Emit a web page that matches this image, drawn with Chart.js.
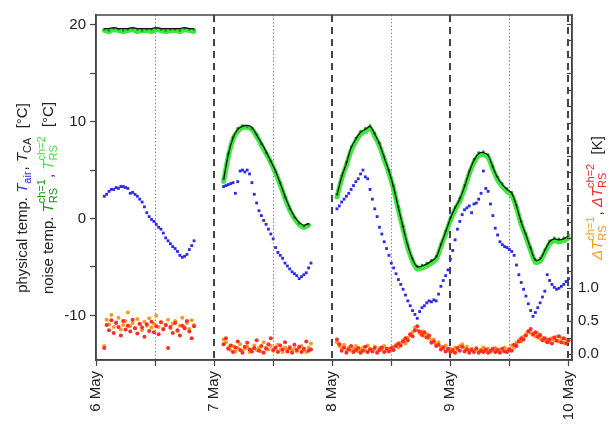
<!DOCTYPE html>
<html>
<head>
<meta charset="utf-8">
<script src="https://cdn.jsdelivr.net/npm/chart.js@4.4.1/dist/chart.umd.min.js"></script>
<style>
  html, body { margin: 0; padding: 0; background: #fff; }
  canvas { display: block; }
</style>
</head>
<body>
<canvas id="chart" width="613" height="430"></canvas>
<script>
// ---- data (x in days of May, each segment sampled from a start day) ----
var segStart = [6.07, 7.08, 8.04];
var fineStep = 0.02;    // T_air and delta T samples
var coarseStep = 0.04;  // T_CA and T_RS samples

var dayLabels = ["6 May", "7 May", "8 May", "9 May", "10 May"];
var xTickValues = [6, 6.5, 7, 7.5, 8, 8.5, 9, 9.5, 10];
var dashedDays = [7, 8, 9, 10];
var dottedDays = [6.5, 7.5, 8.5, 9.5];
var leftTickValues = [-10, -5, 0, 5, 10, 15, 20];
var rightTickLabels = { "0": "0.0", "0.5": "0.5", "1": "1.0" };

// physical temp. T_air (blue)
var tAir = [
  [2.3, 2.5, 2.8, 3.0, 3.0, 3.2, 3.1, 3.3, 3.3, 3.2,
   3.1, 2.6, 2.7, 2.5, 2.3, 2.0, 1.7, 1.2, 0.6, 0.2,
   -0.1, -0.3, -0.6, -0.9, -1.1, -1.5, -2.0, -2.3, -2.6, -2.9,
   -3.1, -3.4, -3.8, -4.0, -3.9, -3.7, -3.2, -2.8, -2.3],
  [3.3, 3.4, 3.5, 3.6, 3.7, 2.6, 3.8, 4.9, 5.0, 4.8,
   5.0, 4.6, 3.7, 2.5, 1.6, 0.8, 0.3, -0.2, -0.6, -1.1,
   -1.6, -2.1, -3.0, -3.5, -3.8, -4.1, -4.6, -4.9, -5.2, -5.5,
   -5.7, -5.9, -6.2, -6.0, -5.8, -5.6, -5.1, -4.6],
  [1.0, 1.3, 1.7, 2.0, 2.3, 2.6, 3.0, 3.4, 3.8, 4.1,
   4.6, 5.0, 4.3, 4.1, 3.0, 2.0, 1.0, 0.2, -0.9, -1.6,
   -2.4, -3.1, -3.8, -4.6, -5.1, -5.7, -6.3, -6.8, -7.3, -7.9,
   -8.5, -9.0, -9.5, -9.9, -10.3, -9.6, -9.2, -9.0, -8.7, -8.5,
   -8.6, -8.4, -8.5, -7.8, -7.0, -6.4, -5.9, -5.3, -4.2, -3.3,
   -2.2, -1.1, -0.3, 0.4, 0.9, 1.1, 1.3, 0.6, 1.5, 1.6,
   2.0, 2.6, 4.9, 3.1, 2.8, 1.5, 0.3, -1.0, -1.7, -2.4,
   -2.7, -2.9, -3.0, -3.2, -3.4, -3.8, -4.8, -5.8, -6.6, -7.3,
   -8.0, -8.8, -9.5, -10.1, -9.7, -9.2, -8.7, -8.1, -7.5, -5.8,
   -6.4, -6.8, -7.1, -7.3, -7.2, -7.0, -6.8, -6.5, -6.2]
];

// physical temp. T_CA (black line)
var tCA = [
  [19.6, 19.6, 19.7, 19.6, 19.6, 19.6, 19.7, 19.6, 19.6, 19.6,
   19.6, 19.7, 19.6, 19.6, 19.6, 19.6, 19.6, 19.7, 19.6, 19.6],
  [4.0, 6.6, 8.3, 9.2, 9.5, 9.6, 9.4, 8.6, 7.8, 6.9,
   5.9, 4.9, 3.6, 2.3, 1.1, 0.2, -0.4, -0.7, -0.5],
  [2.4, 4.3, 5.7, 7.3, 8.2, 8.9, 9.2, 9.5, 8.7, 7.7,
   6.3, 4.9, 3.2, 1.1, -0.9, -2.8, -4.2, -5.0, -4.9, -4.7,
   -4.4, -4.0, -2.7, -1.4, 0.0, 1.1, 2.0, 3.3, 4.8, 6.0,
   6.7, 6.8, 6.5, 5.3, 4.2, 3.5, 3.0, 2.6, 1.3, -0.4,
   -1.7, -3.1, -4.3, -4.2, -3.3, -2.4, -2.1, -2.2, -2.1, -1.8]
];

// noise temp. T_RS ch=1 (dark green)
var tRS1 = [
  [19.5, 19.4, 19.6, 19.5, 19.4, 19.5, 19.6, 19.5, 19.4, 19.5,
   19.5, 19.6, 19.5, 19.4, 19.5, 19.5, 19.4, 19.6, 19.5, 19.5],
  [4.1, 6.7, 8.4, 9.3, 9.6, 9.5, 9.3, 8.7, 7.7, 6.8,
   5.9, 4.8, 3.7, 2.2, 1.0, 0.1, -0.5, -0.8, -0.6],
  [2.5, 4.4, 5.8, 7.4, 8.3, 9.0, 9.3, 9.6, 8.8, 7.8,
   6.4, 5.0, 3.3, 1.2, -0.8, -2.7, -4.1, -4.9, -4.8, -4.6,
   -4.3, -3.9, -2.6, -1.3, 0.1, 1.2, 2.1, 3.4, 4.9, 6.1,
   6.8, 6.9, 6.6, 5.4, 4.3, 3.6, 3.1, 2.7, 1.4, -0.3,
   -1.6, -3.0, -4.2, -4.1, -3.2, -2.3, -2.0, -2.1, -2.0, -1.7]
];

// noise temp. T_RS ch=2 (bright green)
var tRS2 = [
  [19.4, 19.3, 19.5, 19.4, 19.3, 19.4, 19.5, 19.3, 19.4, 19.4,
   19.3, 19.5, 19.4, 19.3, 19.4, 19.4, 19.3, 19.5, 19.4, 19.3],
  [3.8, 6.4, 8.2, 9.0, 9.4, 9.4, 9.2, 8.5, 7.6, 6.7,
   5.8, 4.7, 3.5, 2.1, 0.9, 0.0, -0.6, -0.9, -0.7],
  [2.2, 4.1, 5.5, 7.0, 8.0, 8.7, 9.0, 9.3, 8.5, 7.5,
   6.1, 4.7, 3.0, 0.9, -1.1, -3.0, -4.4, -5.2, -5.1, -4.9,
   -4.6, -4.2, -2.9, -1.6, -0.2, 0.9, 1.8, 3.1, 4.6, 5.8,
   6.5, 6.6, 6.3, 5.1, 4.0, 3.3, 2.8, 2.4, 1.1, -0.6,
   -1.9, -3.3, -4.5, -4.4, -3.5, -2.6, -2.3, -2.4, -2.3, -2.0]
];

// delta T_RS ch=1 (orange), right axis [K]
var dT1 = [
  [0.12, 0.52, 0.45, 0.59, 0.41, 0.48, 0.55, 0.37, 0.44, 0.50,
   0.63, 0.42, 0.47, 0.39, 0.53, 0.45, 0.36, 0.49, 0.43, 0.54,
   0.40, 0.46, 0.58, 0.41, 0.48, 0.37, 0.44, 0.52, 0.39, 0.46,
   0.50, 0.35, 0.43, 0.55, 0.41, 0.47, 0.38, 0.51, 0.44],
  [0.22, 0.18, 0.10, 0.06, 0.12, 0.04, 0.09, 0.15, 0.05, 0.08,
   0.11, 0.03, 0.07, 0.13, 0.06, 0.09, 0.04, 0.18, 0.10, 0.07,
   0.12, 0.05, 0.08, 0.14, 0.06, 0.03, 0.10, 0.07, 0.11, 0.05,
   0.08, 0.04, 0.09, 0.12, 0.06, 0.03, 0.10, 0.16],
  [0.18, 0.12, 0.09, 0.14, 0.06, 0.10, 0.05, 0.08, 0.12, 0.04,
   0.07, 0.10, 0.05, 0.13, 0.08, 0.06, 0.11, 0.04, 0.09, 0.07,
   0.12, 0.05, 0.08, 0.06, 0.11, 0.14, 0.10, 0.17, 0.21, 0.16,
   0.25, 0.29, 0.33, 0.40, 0.36, 0.31, 0.34, 0.27, 0.30, 0.24,
   0.20, 0.22, 0.15, 0.18, 0.11, 0.09, 0.13, 0.06, 0.08, 0.04,
   0.10, 0.07, 0.12, 0.15, 0.09, 0.11, 0.06, 0.08, 0.05, 0.09,
   0.04, 0.07, 0.10, 0.05, 0.08, 0.03, 0.06, 0.09, 0.04, 0.07,
   0.05, 0.10, 0.06, 0.08, 0.13, 0.10, 0.17, 0.21, 0.19, 0.26,
   0.30, 0.35, 0.32, 0.29, 0.27, 0.31, 0.23, 0.25, 0.20, 0.22,
   0.18, 0.24, 0.21, 0.26, 0.19, 0.23, 0.17, 0.22, 0.20]
];

// delta T_RS ch=2 (red), right axis [K]
var dT2 = [
  [0.09, 0.44, 0.36, 0.51, 0.32, 0.47, 0.41, 0.28, 0.50, 0.37,
   0.43, 0.34, 0.52, 0.39, 0.31, 0.46, 0.40, 0.26, 0.45, 0.35,
   0.49, 0.33, 0.42, 0.30, 0.48, 0.38, 0.44, 0.09, 0.41, 0.32,
   0.47, 0.36, 0.28, 0.43, 0.39, 0.50, 0.34, 0.24, 0.42],
  [0.15, 0.24, 0.08, 0.13, 0.03, 0.10, 0.19, 0.06, 0.02, 0.11,
   0.17, 0.07, 0.04, 0.09, 0.21, 0.05, 0.12, 0.02, 0.08, 0.15,
   0.24, 0.06, 0.10, 0.03, 0.13, 0.07, 0.18, 0.04, 0.09, 0.02,
   0.14, 0.06, 0.11, 0.03, 0.08, 0.19, 0.05, 0.07],
  [0.22, 0.15, 0.05, 0.10, 0.02, 0.07, 0.12, 0.03, 0.06, 0.09,
   0.02, 0.05, 0.11, 0.03, 0.07, 0.04, 0.09, 0.02, 0.06, 0.10,
   0.03, 0.08, 0.04, 0.09, 0.06, 0.12, 0.16, 0.13, 0.19, 0.24,
   0.21, 0.30, 0.27, 0.36, 0.42, 0.34, 0.29, 0.33, 0.25, 0.28,
   0.17, 0.19, 0.12, 0.14, 0.07, 0.10, 0.04, 0.08, 0.03, 0.06,
   0.02, 0.09, 0.05, 0.11, 0.04, 0.07, 0.02, 0.06, 0.03, 0.08,
   0.02, 0.05, 0.03, 0.07, 0.02, 0.05, 0.08, 0.03, 0.06, 0.02,
   0.08, 0.04, 0.03, 0.07, 0.05, 0.14, 0.12, 0.19, 0.24, 0.22,
   0.28, 0.34, 0.38, 0.30, 0.33, 0.26, 0.29, 0.21, 0.24, 0.18,
   0.22, 0.16, 0.25, 0.20, 0.27, 0.18, 0.24, 0.16, 0.21]
];

// ---- helpers ----
var FONT = '"Liberation Sans", Arial, sans-serif';
var INK = "#222";
var AXIS = "#444";

// turn segmented value lists into {x, y} points, with a break between segments
function toPoints(segs, step) {
  var pts = [];
  segs.forEach(function (vals, s) {
    vals.forEach(function (v, i) {
      pts.push({ x: segStart[s] + i * step, y: v });
    });
    if (s < segs.length - 1) pts.push({ x: segStart[s] + vals.length * step, y: null });
  });
  return pts;
}

function measurePart(ctx, p) {
  if (p.sup || p.sub) {
    ctx.font = "11px " + FONT;
    return Math.max(p.sup ? ctx.measureText(p.sup).width : 0,
                    p.sub ? ctx.measureText(p.sub).width : 0) + 1;
  }
  ctx.font = (p.it ? "italic " : "") + "15px " + FONT;
  return ctx.measureText(p.t).width;
}

function drawPart(ctx, p, x) {
  ctx.fillStyle = p.c || INK;
  if (p.sup || p.sub) {
    ctx.font = "11px " + FONT;
    if (p.sup) ctx.fillText(p.sup, x, -3);
    if (p.sub) ctx.fillText(p.sub, x, 9);
    return;
  }
  ctx.font = (p.it ? "italic " : "") + "15px " + FONT;
  ctx.fillText(p.t, x, 5);
}

// vertical text centred on (cx, cy), reading bottom to top
function drawRich(ctx, cx, cy, parts) {
  ctx.save();
  ctx.translate(cx, cy);
  ctx.rotate(-Math.PI / 2);
  ctx.textBaseline = "alphabetic";
  ctx.textAlign = "left";
  var total = 0;
  parts.forEach(function (p) { p.w = measurePart(ctx, p); total += p.w; });
  var x = -total / 2;
  parts.forEach(function (p) { drawPart(ctx, p, x); x += p.w; });
  ctx.restore();
}

var BLUE = "#2a2af2";
var DKGREEN = "#0f9a0f";
var LTGREEN = "#3ee83e";
var ORANGE = "#ff9a1e";
var RED = "#ff2a2a";

var decorPlugin = {
  id: "decor",
  beforeDatasetsDraw: function (chart) {
    var ctx = chart.ctx, a = chart.chartArea, xs = chart.scales.x;
    ctx.save();
    ctx.beginPath();
    ctx.rect(a.left, a.top, a.right - a.left, a.bottom - a.top);
    ctx.clip();
    dottedDays.forEach(function (d) {
      var px = Math.round(xs.getPixelForValue(d)) + 0.5;
      ctx.strokeStyle = "#8a8a8a";
      ctx.lineWidth = 1;
      ctx.setLineDash([1.5, 2]);
      ctx.beginPath(); ctx.moveTo(px, a.top); ctx.lineTo(px, a.bottom); ctx.stroke();
    });
    dashedDays.forEach(function (d) {
      var px = Math.round(xs.getPixelForValue(d));
      ctx.strokeStyle = AXIS;
      ctx.lineWidth = 2;
      ctx.setLineDash([7, 5]);
      ctx.beginPath(); ctx.moveTo(px, a.top); ctx.lineTo(px, a.bottom); ctx.stroke();
    });
    ctx.restore();
  },
  afterDraw: function (chart) {
    var ctx = chart.ctx, a = chart.chartArea, yr = chart.scales.y2;
    ctx.save();
    // frame
    ctx.strokeStyle = AXIS;
    ctx.lineWidth = 1.5;
    ctx.strokeRect(a.left, a.top, a.right - a.left, a.bottom - a.top);
    // inward minor ticks on the right axis
    ctx.lineWidth = 1.2;
    for (var v = 0; v <= yr.max; v += 0.25) {
      var py = Math.round(yr.getPixelForValue(v)) + 0.5;
      ctx.beginPath(); ctx.moveTo(a.right - 5, py); ctx.lineTo(a.right, py); ctx.stroke();
    }
    ctx.restore();

    drawRich(ctx, 22, 198, [
      { t: "physical temp. " },
      { t: "T", it: true, c: BLUE }, { sub: "air", c: BLUE },
      { t: ", " },
      { t: "T", it: true }, { sub: "CA" },
      { t: "  [\u00b0C]" }
    ]);
    drawRich(ctx, 48, 198, [
      { t: "noise temp. " },
      { t: "T", it: true, c: DKGREEN }, { sup: "ch=1", sub: "RS", c: DKGREEN },
      { t: ", " },
      { t: "T", it: true, c: LTGREEN }, { sup: "ch=2", sub: "RS", c: LTGREEN },
      { t: "  [\u00b0C]" }
    ]);
    drawRich(ctx, 597, 198, [
      { t: "\u0394T", it: true, c: ORANGE }, { sup: "ch=1", sub: "RS", c: ORANGE },
      { t: ", " },
      { t: "\u0394T", it: true, c: RED }, { sup: "ch=2", sub: "RS", c: RED },
      { t: "  [K]" }
    ]);
  }
};

new Chart(document.getElementById("chart"), {
  type: "scatter",
  data: {
    datasets: [
      { label: "T_CA", data: toPoints(tCA, coarseStep), yAxisID: "y",
        showLine: true, borderColor: "#111", borderWidth: 1.3, pointRadius: 0, tension: 0.3 },
      { label: "T_RS ch=1", data: toPoints(tRS1, coarseStep), yAxisID: "y",
        showLine: false, pointRadius: 1.3, pointBackgroundColor: DKGREEN, pointBorderWidth: 0 },
      { label: "T_RS ch=2", data: toPoints(tRS2, coarseStep), yAxisID: "y",
        showLine: true, borderColor: LTGREEN, borderWidth: 5, tension: 0.3,
        pointRadius: 2.4, pointBackgroundColor: LTGREEN, pointBorderWidth: 0 },
      { label: "T_air", data: toPoints(tAir, fineStep), yAxisID: "y",
        pointStyle: "rect", pointRadius: 2, pointBackgroundColor: BLUE, pointBorderWidth: 0 },
      { label: "dT ch=2", data: toPoints(dT2, fineStep), yAxisID: "y2",
        pointRadius: 2, pointBackgroundColor: RED, pointBorderWidth: 0 },
      { label: "dT ch=1", data: toPoints(dT1, fineStep), yAxisID: "y2",
        pointRadius: 2, pointBackgroundColor: ORANGE, pointBorderWidth: 0 }
    ]
  },
  options: {
    responsive: false,
    animation: false,
    devicePixelRatio: 1,
    layout: { padding: { top: 10, right: 0, bottom: 0, left: 0 } },
    plugins: { legend: { display: false }, tooltip: { enabled: false } },
    scales: {
      x: {
        type: "linear", position: "bottom", min: 6, max: 10.03,
        afterBuildTicks: function (s) { s.ticks = xTickValues.map(function (v) { return { value: v }; }); },
        afterFit: function (s) { s.height = 70; },
        ticks: {
          autoSkip: false, minRotation: 90, maxRotation: 90, padding: 5, color: INK,
          font: { family: FONT, size: 15 },
          callback: function (v) { return Number.isInteger(v) ? dayLabels[v - 6] : ""; }
        },
        grid: { drawOnChartArea: false, tickLength: 6, color: AXIS, tickWidth: 1.2 },
        border: { color: AXIS, width: 1.5 }
      },
      y: {
        type: "linear", position: "left", min: -14.6, max: 21,
        afterBuildTicks: function (s) { s.ticks = leftTickValues.map(function (v) { return { value: v }; }); },
        afterFit: function (s) { s.width = 96; },
        ticks: {
          padding: 4, color: INK, font: { family: FONT, size: 15 },
          callback: function (v) { return v % 10 === 0 ? String(v) : ""; }
        },
        grid: { drawOnChartArea: false, tickLength: 6, color: AXIS, tickWidth: 1.2 },
        border: { color: AXIS, width: 1.5 }
      },
      y2: {
        type: "linear", position: "right", min: -0.09, max: 5.13,
        afterBuildTicks: function (s) {
          s.ticks = Object.keys(rightTickLabels).map(function (k) { return { value: Number(k) }; });
        },
        afterFit: function (s) { s.width = 41; },
        ticks: {
          padding: 6, color: INK, font: { family: FONT, size: 15 },
          callback: function (v) { return rightTickLabels[String(v)] || ""; }
        },
        grid: { drawOnChartArea: false, drawTicks: false },
        border: { color: AXIS, width: 1.5 }
      }
    }
  },
  plugins: [decorPlugin]
});
</script>
</body>
</html>
